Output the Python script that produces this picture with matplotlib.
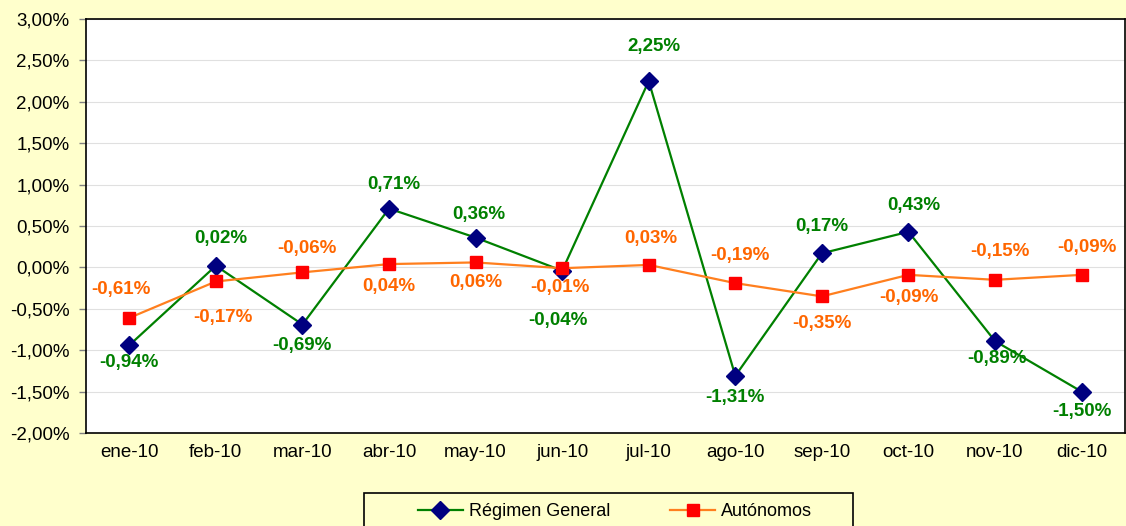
import matplotlib
matplotlib.use('Agg')
import matplotlib.pyplot as plt
from matplotlib.patches import Rectangle
from matplotlib.ticker import FuncFormatter, MultipleLocator

plt.rcParams['font.family'] = ['Liberation Sans', 'DejaVu Sans']

months = ['ene-10', 'feb-10', 'mar-10', 'abr-10', 'may-10', 'jun-10',
          'jul-10', 'ago-10', 'sep-10', 'oct-10', 'nov-10', 'dic-10']
regimen_general = [-0.94, 0.02, -0.69, 0.71, 0.36, -0.04, 2.25, -1.31, 0.17, 0.43, -0.89, -1.50]
autonomos = [-0.61, -0.17, -0.06, 0.04, 0.06, -0.01, 0.03, -0.19, -0.35, -0.09, -0.15, -0.09]

# label offsets from the point, in pixels (negative dy = above)
rg_dx = [0, 5, 0, 5, 3, -4, 5, 0, 0, 5, 2, 0]
rg_dy = [17, -27, 21, -24, -23, 50, -35, 22, -27, -26, 17, 20]
au_dx = [-8, 7, 5, 0, 0, -2, 2, 5, 0, 0, 5, 5]
au_dy = [-28, 36, -24, 22, 20, 19, -26, -28, 27, 23, -28, -27]

bg = '#FFFFCC'
green = '#008000'
orange = '#FF7F1E'
orange_txt = '#FF6600'

fig = plt.figure(figsize=(11.26, 5.26), dpi=100, facecolor=bg)
ax = fig.add_axes([86 / 1126, 1 - 433 / 526, 1 - 86 / 1126 - 0.001, (433 - 19) / 526])
ax.set_facecolor('white')

x = list(range(len(months)))
l1, = ax.plot(x, regimen_general, color=green, lw=1.6, marker='D', ms=9,
              mfc='#000080', mec='#000080', zorder=3, label='Régimen General')
l2, = ax.plot(x, autonomos, color=orange, lw=1.6, marker='s', ms=9,
              mfc='#FF0000', mec='#FF0000', zorder=4, label='Autónomos')


def fmt(v):
    return f'{v:.2f}'.replace('.', ',') + '%'


px = 0.72  # points per pixel at dpi 100
for xi, v, dx, dy in zip(x, regimen_general, rg_dx, rg_dy):
    ax.annotate(fmt(v), (xi, v), xytext=(dx * px, -dy * px), textcoords='offset points',
                ha='center', va='center', color=green, fontsize=13.5, fontweight='bold')
for xi, v, dx, dy in zip(x, autonomos, au_dx, au_dy):
    ax.annotate(fmt(v), (xi, v), xytext=(dx * px, -dy * px), textcoords='offset points',
                ha='center', va='center', color=orange_txt, fontsize=13.5, fontweight='bold')

ax.set_xlim(-0.5, len(months) - 0.5)
ax.set_ylim(-2.0, 3.0)
ax.yaxis.set_major_locator(MultipleLocator(0.5))
ax.yaxis.set_major_formatter(FuncFormatter(lambda v, p: fmt(v)))
ax.set_xticks(x)
ax.set_xticklabels(months)
ax.tick_params(axis='x', length=0, pad=8, labelsize=13.5)
ax.tick_params(axis='y', length=5, width=1, labelsize=13.5, color='#808080', pad=7)
ax.grid(axis='y', color='#E0E0E0', lw=0.8)
ax.set_axisbelow(True)
for sp in ax.spines.values():
    sp.set_color('black')
    sp.set_linewidth(1.2)

fig.patches.append(Rectangle((364 / 1126, -0.01), (853 - 364) / 1126, 0.01 + 1 - 493 / 526,
                             transform=fig.transFigure, fill=False, ec='black', lw=1.2))
fig.legend(handles=[l1, l2], loc='center', bbox_to_anchor=(615 / 1126, 1 - 512 / 526),
           ncol=2, frameon=False, fontsize=13, handlelength=2.5, handletextpad=0.35,
           columnspacing=3.3)

fig.savefig('out.png', dpi=100, facecolor=bg)
